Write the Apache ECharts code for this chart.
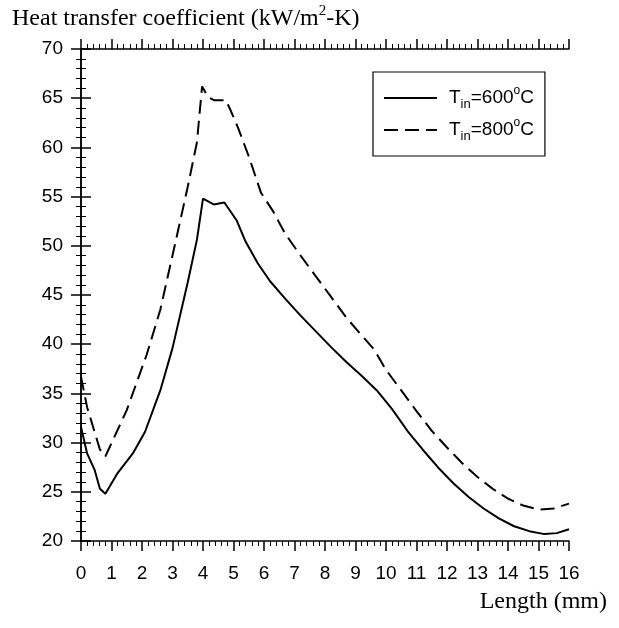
<!DOCTYPE html>
<html>
<head>
<meta charset="utf-8">
<script src="https://cdn.jsdelivr.net/npm/echarts@6/dist/echarts.min.js"></script>
<style>
html,body{margin:0;padding:0;background:#fff;}
#main{width:619px;height:628px;}
</style>
</head>
<body>
<div id="main"></div>
<script>
// T_in = 600 C  (length mm, coefficient kW/m2-K)
const t600 = [[0,31.6],[0.2,28.9],[0.45,27.2],[0.62,25.3],[0.8,24.8],[1.2,26.9],[1.7,28.9],[2.1,31.1],[2.6,35.3],[3.0,39.6],[3.5,46.3],[3.8,50.6],[4.0,54.8],[4.35,54.2],[4.7,54.4],[5.1,52.6],[5.4,50.4],[5.8,48.2],[6.2,46.4],[6.7,44.6],[7.2,42.9],[7.7,41.3],[8.2,39.7],[8.7,38.2],[9.2,36.8],[9.7,35.3],[10.2,33.4],[10.7,31.2],[11.2,29.3],[11.7,27.5],[12.2,25.9],[12.7,24.5],[13.2,23.3],[13.7,22.3],[14.2,21.5],[14.7,21.0],[15.2,20.7],[15.6,20.8],[16,21.2]];
// T_in = 800 C
const t800 = [[0,36.7],[0.2,33.6],[0.62,29.3],[0.8,28.6],[1.5,33.3],[2.15,38.9],[2.6,43.5],[3.1,50.4],[3.5,56],[3.8,60.5],[3.97,66.2],[4.17,65.1],[4.36,64.8],[4.75,64.8],[4.9,63.8],[5.16,61.9],[5.5,59.1],[5.9,55.4],[6.3,53.5],[6.7,51.2],[7.2,49.0],[7.7,46.9],[8.2,44.8],[8.7,42.7],[9.2,40.9],[9.6,39.5],[10.0,37.4],[10.5,35.3],[11.0,33.2],[11.5,31.2],[12.0,29.5],[12.5,27.9],[13.0,26.5],[13.5,25.3],[14.0,24.3],[14.5,23.6],[15.0,23.2],[15.5,23.3],[16,23.8]];
const seriesNames = ['600','800'];
const xRange = [0,16];
const yRange = [20,70];

const chart = echarts.init(document.getElementById('main'));
const serif = '"Liberation Serif","Times New Roman",serif';
const sans = 'Arial, "Liberation Sans", sans-serif';
const tickFont = {color:'#000',fontFamily:sans,fontSize:19};
const axLine = {show:true,lineStyle:{color:'#000',width:1.5}};
const tick = {show:true,inside:false,length:10,lineStyle:{color:'#000',width:1.5}};
const minor = {show:true,splitNumber:5,length:5,lineStyle:{color:'#000',width:1}};

const option = {
  animation:false,
  backgroundColor:'#fff',
  title:[{
    left:12, top:4, padding:0,
    text:'{a|Heat transfer coefficient (kW/m}{s|2}{a|-K)}',
    textStyle:{rich:{
      a:{fontFamily:serif,fontSize:24,fontWeight:'normal',color:'#000',lineHeight:30},
      s:{fontFamily:serif,fontSize:15,fontWeight:'normal',color:'#000',lineHeight:15,verticalAlign:'top'}
    }}
  },{
    right:12, top:589, padding:0,
    text:'Length (mm)',
    textStyle:{fontFamily:serif,fontSize:24,fontWeight:'normal',color:'#000',lineHeight:26}
  }],
  grid:{left:81,top:49,width:488,height:492,containLabel:false},
  legend:{
    orient:'vertical', left:373, top:72,
    padding:[13,11,13,10], itemGap:6,
    itemWidth:53, itemHeight:14,
    borderColor:'#000', borderWidth:1.2, borderRadius:0,
    itemStyle:{opacity:0},
    data:seriesNames,
    formatter:function(name){
      return '{p|T}{sub|in}{t|='+name+'}{sup|o}{t|C}';
    },
    textStyle:{rich:{
      p:{fontFamily:sans,fontSize:19,color:'#000',lineHeight:26,padding:[0,0,0,7]},
      t:{fontFamily:sans,fontSize:19,color:'#000',lineHeight:26},
      sub:{fontFamily:sans,fontSize:13,color:'#000',lineHeight:13,verticalAlign:'bottom'},
      sup:{fontFamily:sans,fontSize:12,color:'#000',lineHeight:12,verticalAlign:'top'}
    }}
  },
  xAxis:[{
    type:'value', min:xRange[0], max:xRange[1], interval:1,
    axisLine:axLine, axisTick:tick, minorTick:minor,
    axisLabel:Object.assign({margin:23},tickFont),
    splitLine:{show:false}
  },{
    type:'value', position:'top', min:xRange[0], max:xRange[1], interval:1,
    axisLine:axLine, axisTick:tick, minorTick:minor,
    axisLabel:{show:false}, splitLine:{show:false}
  }],
  yAxis:[{
    type:'value', min:yRange[0], max:yRange[1], interval:5,
    axisLine:axLine, axisTick:tick, minorTick:minor,
    axisLabel:Object.assign({margin:18},tickFont),
    splitLine:{show:false}
  },{
    type:'value', position:'right', min:yRange[0], max:yRange[1], interval:5,
    axisLine:axLine, axisTick:tick, minorTick:minor,
    axisLabel:{show:false}, splitLine:{show:false}
  }],
  series:[{
    name:'600', type:'line', data:t600, symbol:'none',
    lineStyle:{color:'#000',width:2,type:'solid'}, itemStyle:{color:'#000'}
  },{
    name:'800', type:'line', data:t800, symbol:'none',
    lineStyle:{color:'#000',width:2,type:[14,7]}, itemStyle:{color:'#000'}
  }]
};
chart.setOption(option);
</script>
</body>
</html>
